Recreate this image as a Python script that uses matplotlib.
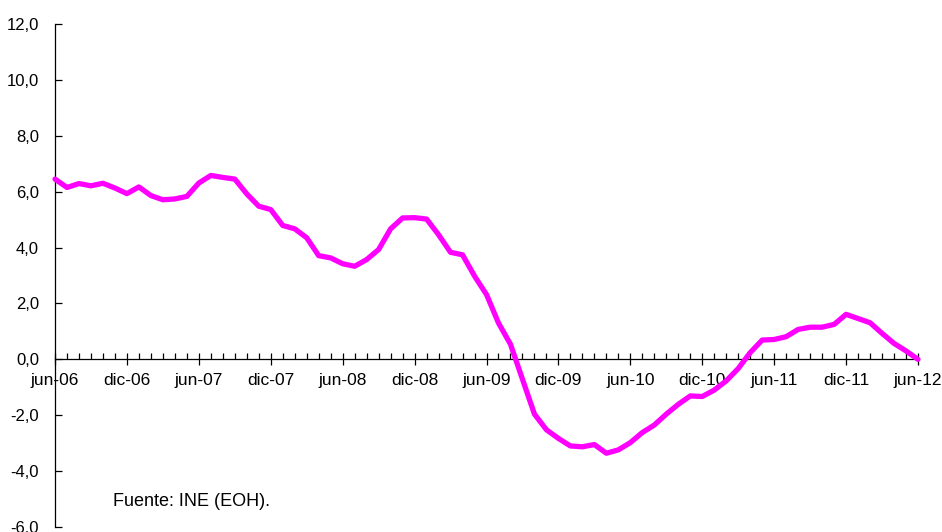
import matplotlib
matplotlib.use("Agg")
import matplotlib.pyplot as plt
from matplotlib.ticker import MultipleLocator, FixedLocator
import numpy as np

plt.rcParams['font.family'] = ['Liberation Sans', 'DejaVu Sans']

# tasa interanual (%), meses jun-06 .. jun-12
valores = [
    6.45, 6.15, 6.29, 6.21, 6.30, 6.13, 5.93, 6.17, 5.86, 5.71, 5.74, 5.83,
    6.31, 6.58, 6.51, 6.45, 5.92, 5.48, 5.36, 4.79, 4.67, 4.35, 3.71, 3.63,
    3.42, 3.33, 3.57, 3.93, 4.67, 5.06, 5.07, 5.02, 4.46, 3.83, 3.74, 2.98,
    2.32, 1.30, 0.54, -0.71, -1.96, -2.52, -2.83, -3.10, -3.13, -3.05, -3.36, -3.24,
    -2.98, -2.62, -2.35, -1.96, -1.61, -1.31, -1.33, -1.10, -0.77, -0.33, 0.24, 0.69,
    0.71, 0.81, 1.07, 1.15, 1.15, 1.25, 1.61, 1.46, 1.31, 0.93, 0.57, 0.30,
    0.0,
]
etiquetas_x = ['jun-06', 'dic-06', 'jun-07', 'dic-07', 'jun-08', 'dic-08',
               'jun-09', 'dic-09', 'jun-10', 'dic-10', 'jun-11', 'dic-11', 'jun-12']
etiquetas_y = ['-6,0', '-4,0', '-2,0', '0,0', '2,0', '4,0', '6,0', '8,0', '10,0', '12,0']
fuente = 'Fuente: INE (EOH).'

meses = np.arange(len(valores))

fig = plt.figure(figsize=(9.42, 5.32), dpi=100)
ax = fig.add_axes([55 / 942, 5 / 532, 863 / 942, 503 / 532])

ax.plot(meses, valores, color='#ff00ff', linewidth=3.8, solid_joinstyle='round',
        solid_capstyle='round', clip_on=False, zorder=3)

ax.set_xlim(0, len(valores) - 1)
ax.set_ylim(-6, 12)

for s in ['top', 'right']:
    ax.spines[s].set_visible(False)
ax.spines['bottom'].set_position(('data', 0))
ax.spines['left'].set_linewidth(0.9)
ax.spines['bottom'].set_linewidth(0.9)

ax.xaxis.set_major_locator(FixedLocator(np.arange(0, len(valores), 6)))
ax.xaxis.set_minor_locator(MultipleLocator(1))
ax.set_xticklabels(etiquetas_x)
ax.tick_params(axis='x', which='major', direction='inout', length=9, width=0.9,
               labelsize=12.5, pad=5)
ax.tick_params(axis='x', which='minor', direction='in', length=4, width=0.9)

ax.set_yticks(np.arange(-6, 13, 2))
ax.set_yticklabels(etiquetas_y)
ax.tick_params(axis='y', direction='in', length=5, width=0.9, labelsize=12, pad=11.5)

fig.text(113 / 942, 1 - 501 / 532, fuente, fontsize=13, va='center', ha='left')

fig.savefig('out.png', dpi=100)
